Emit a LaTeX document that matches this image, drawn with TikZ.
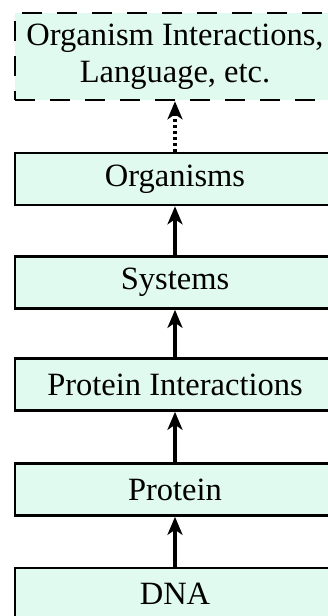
\documentclass[tikz,border=0pt]{standalone}
\usepackage{fontspec}
\setmainfont{Liberation Serif}
\usetikzlibrary{arrows.meta}
\definecolor{mint}{RGB}{225,250,240}
\tikzset{
  stagebox/.style={draw=black, line width=2.6pt, fill=mint, minimum width=320pt, minimum height=52pt, inner sep=0pt, align=center, font=\fontsize{32.5}{37}\selectfont},
  topbox/.style={stagebox, minimum height=87pt, dash pattern=on 20pt off 15pt},
  uparrow/.style={line width=3.6pt, -{Stealth[length=18pt,width=15pt,inset=5pt]}},
}
\begin{document}
\begin{tikzpicture}[x=1pt,y=-1pt]
			%%%%% START %%%%%
			\useasboundingbox (0,0) rectangle (328,616);
			
			\node[topbox] (interact) at (175,56.5) {Organism Interactions,\\Language, etc.};
			\node[stagebox] (organisms) at (175,179) {Organisms};
			\node[stagebox] (systems) at (175,282.5) {Systems};
			\node[stagebox] (protint) at (175,384.5) {Protein Interactions};
			\node[stagebox] (protein) at (175,489.5) {Protein};
			\node[stagebox] (dna) at (175,594) {DNA};
			
			\draw[uparrow] (dna) -- (protein);
			\draw[uparrow] (protein) -- (protint);
			\draw[uparrow] (protint) -- (systems);
			\draw[uparrow] (systems) -- (organisms);
			\draw[uparrow, dash pattern=on 3pt off 3pt] (organisms) -- (interact);
			
			%%%%% END %%%%%
\end{tikzpicture}
\end{document}
